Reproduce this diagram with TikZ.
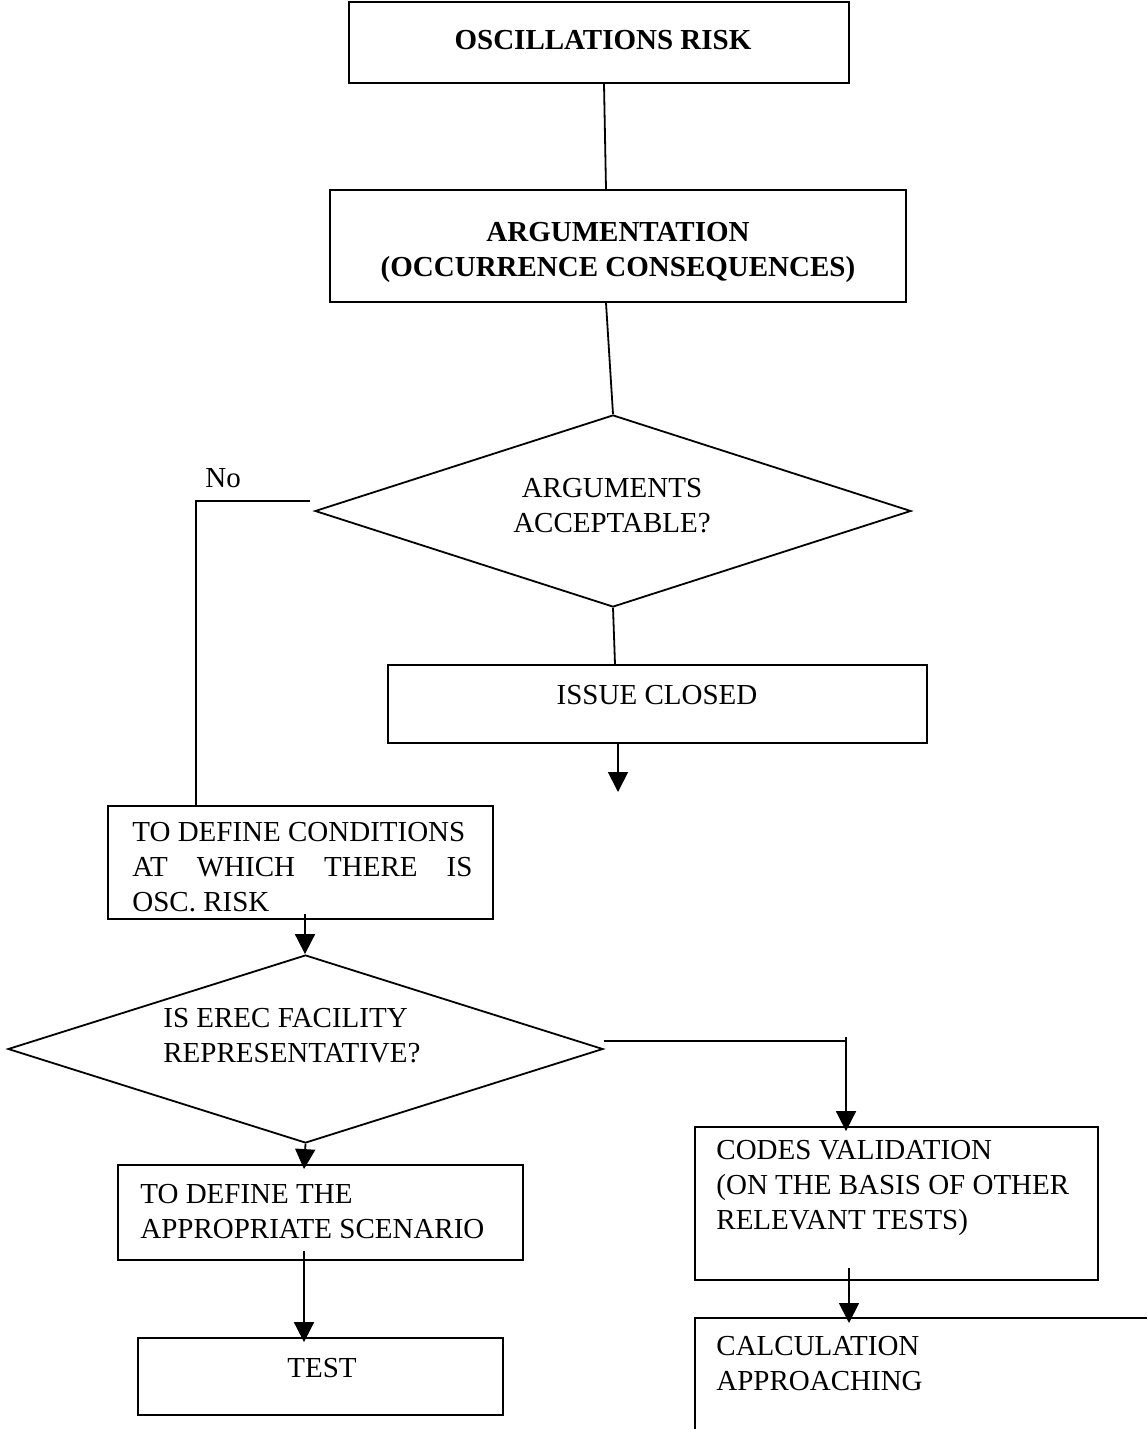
\documentclass[tikz,border=0pt]{standalone}
\usepackage{fontspec}
\setmainfont{Liberation Serif}
\usetikzlibrary{shapes.geometric,arrows.meta,calc}
\begin{document}
\begin{tikzpicture}[x=0.5pt,y=-0.5pt,
  every node/.style={inner sep=0pt},
  txt/.style={font=\fontsize{14.5pt}{17.5pt}\selectfont},
  btxt/.style={font=\fontsize{14.5pt}{17.5pt}\selectfont\bfseries},
  box/.style={draw, rectangle, line width=0.9pt},
  dia/.style={draw, diamond, line width=0.9pt},
  conn/.style={line width=0.9pt},
  arr/.style={conn, -{Triangle[length=10pt,width=10pt]}}]
\useasboundingbox (0,0) rectangle (1147,1429);

% boxes
\node[box, minimum width=250pt, minimum height=40.5pt] (b1) at (599,42.5) {};
\node[box, minimum width=288pt, minimum height=56pt] (b2) at (618,246) {};
\node[dia, minimum width=298pt, minimum height=96pt] (d1) at (613,511) {};
\node[box, minimum width=269.5pt, minimum height=39pt] (ic) at (657.5,704) {};
\node[box, minimum width=192.5pt, minimum height=56.5pt] (b3) at (300.5,862.5) {};
\node[dia, minimum width=297.5pt, minimum height=94pt] (d2) at (305.5,1049) {};
\node[box, minimum width=202.5pt, minimum height=47.5pt] (sc) at (320.5,1212.5) {};
\node[box, minimum width=182.5pt, minimum height=38.5pt] (test) at (320.5,1376.5) {};
\node[box, minimum width=201.5pt, minimum height=76.5pt] (codes) at (896.5,1203.5) {};
\coordinate (calcbl) at (695,1429);
\coordinate (calctl) at (695,1318);
\coordinate (calctr) at (1147,1318);
\draw[conn] (calcbl) -- (calctl) -- (calctr);

% texts
\node[btxt] (t1) at (603,40) {OSCILLATIONS RISK};
\node[btxt, align=center] (t2) at (618,252) {ARGUMENTATION\\(OCCURRENCE CONSEQUENCES)};
\node[txt, align=center] (t3) at (612,506) {ARGUMENTS\\ACCEPTABLE?};
\node[txt, anchor=west] (no) at (205,478) {No};
\node[txt] (t4) at (657,695) {ISSUE CLOSED};
\node[txt, align=left, anchor=west] (t5) at (132,867) {TO DEFINE CONDITIONS\\\makebox[170pt][s]{AT WHICH THERE IS}\\OSC. RISK};
\node[txt, align=left, anchor=west] (t6) at (163,1036) {IS EREC FACILITY\\REPRESENTATIVE?};
\node[txt, align=left, anchor=west] (t7) at (140,1212) {TO DEFINE THE\\APPROPRIATE SCENARIO};
\node[txt] (t8) at (322,1368) {TEST};
\node[txt, align=left, anchor=west] (t9) at (716,1188) {CODES VALIDATION\\(ON THE BASIS OF OTHER\\RELEVANT TESTS)};
\node[txt, align=left, anchor=west] (t10) at (716,1364) {CALCULATION\\APPROACHING};

% connectors
\draw[conn] (b1.south -| 604,0) -- (b2.north -| 606,0);
\draw[conn] (b2.south -| 606,0) -- (d1.north);
\draw[conn] (d1.south) -- (ic.north -| 615,0);
\coordinate (icend) at (618,792);
\draw[arr] (ic.south -| icend) -- (icend);
\draw[conn] ($(d1.west)+(-4,-10)$) -| (b3.north -| 196,0);
\draw[arr] ($(b3.south -| 305,0)+(0,-6)$) -- (d2.north -| 305,0);
\coordinate (corner) at (846,1041);
\draw[conn] ($(d2.east)+(0,-8)$) -- (corner);
\draw[arr] ($(corner)+(0,-4)$) -- ($(codes.north -| corner)+(0,5)$);
\draw[arr] (d2.south) -- ($(sc.north -| 304,0)+(0,5)$);
\draw[arr] ($(sc.south -| 304,0)+(0,-10)$) -- ($(test.north -| 304,0)+(0,5)$);
\draw[arr] ($(codes.south -| 849,0)+(0,-13)$) -- ($(calctl -| 849,0)+(0,5)$);
\end{tikzpicture}
\end{document}
